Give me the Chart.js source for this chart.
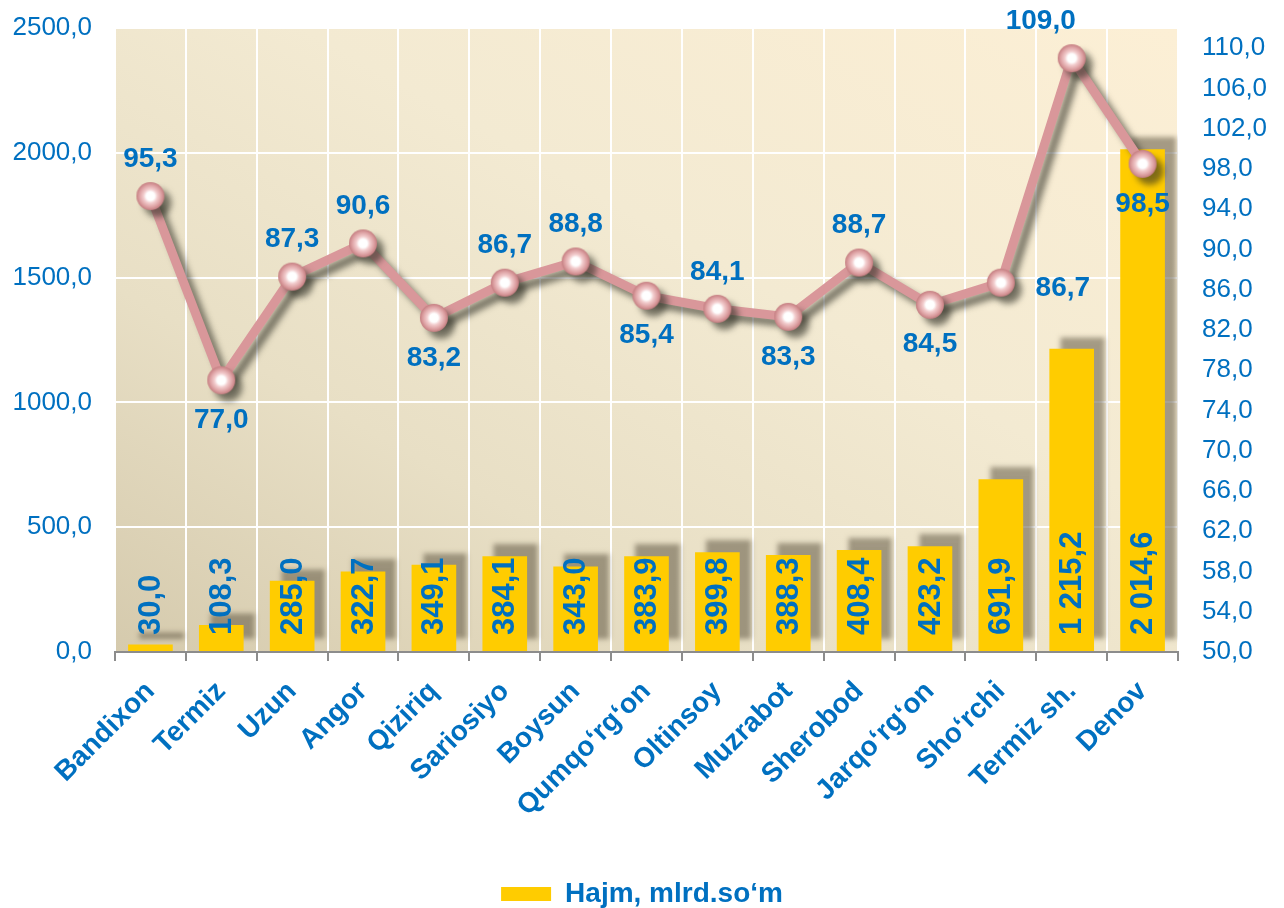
<!DOCTYPE html>
<html>
<head>
<meta charset="utf-8">
<script src="https://cdn.jsdelivr.net/npm/chart.js@4/dist/chart.umd.min.js"></script>
<style>
  html, body { margin: 0; padding: 0; background: #fff; }
  #wrap { width: 1284px; height: 908px; position: relative; }
</style>
</head>
<body>
<div id="wrap"><canvas id="chart"></canvas></div>
<script>
// ── Data ───────────────────────────────────────────────────────────
const districts = ["Bandixon", "Termiz", "Uzun", "Angor", "Qiziriq", "Sariosiyo", "Boysun",
  "Qumqo\u2018rg\u2018on", "Oltinsoy", "Muzrabot", "Sherobod", "Jarqo\u2018rg\u2018on",
  "Sho\u2018rchi", "Termiz sh.", "Denov"];
const volume = [30.0, 108.3, 285.0, 322.7, 349.1, 384.1, 343.0, 383.9, 399.8, 388.3, 408.4, 423.2, 691.9, 1215.2, 2014.6];
const growth = [95.3, 77.0, 87.3, 90.6, 83.2, 86.7, 88.8, 85.4, 84.1, 83.3, 88.7, 84.5, 86.7, 109.0, 98.5];
const volumeTicks = [0, 500, 1000, 1500, 2000, 2500];
const growthTicks = [50, 54, 58, 62, 66, 70, 74, 78, 82, 86, 90, 94, 98, 102, 106, 110];
const volumeLabel = "Hajm, mlrd.so\u2018m";

// where each growth label sits relative to its point
const growthSide = ["t", "b", "t", "t", "b", "t", "t", "b", "t", "b", "t", "b", "r", "tl", "b"];

const BLUE = "#0070C0";
const FONT = "'Liberation Sans', Arial, sans-serif";

function fmt(v, group) {
  let s = v.toFixed(1).replace(".", ",");
  if (group) s = s.replace(/\B(?=(\d{3})+(?!\d))/, " ");
  return s;
}

// pink glass bead used as point style
function makeBead(r) {
  const c = document.createElement("canvas");
  c.width = c.height = r * 2 + 2;
  const g = c.getContext("2d");
  const m = r + 1;
  const grad = g.createRadialGradient(m, m, 0, m, m, r);
  grad.addColorStop(0, "#ffffff");
  grad.addColorStop(0.3, "#ffffff");
  grad.addColorStop(0.5, "#f2cccd");
  grad.addColorStop(0.8, "#dc9fa1");
  grad.addColorStop(1, "#c47e81");
  g.fillStyle = grad;
  g.beginPath();
  g.arc(m, m, r, 0, Math.PI * 2);
  g.fill();
  return c;
}

// y axes: fixed width, no extra label padding above / below the plot
function fixWidth(w) {
  return function (s) {
    s.width = w;
    s.paddingTop = 0;
    s.paddingBottom = 0;
  };
}

// ── Plugins ────────────────────────────────────────────────────────
const backdrop = {
  id: "backdrop",
  beforeDraw(chart) {
    const a = chart.chartArea;
    const ctx = chart.ctx;
    const grad = ctx.createLinearGradient(a.left, a.bottom, a.left + 520, a.top - 300);
    grad.addColorStop(0, "#d5caad");
    grad.addColorStop(0.3, "#e8dfc5");
    grad.addColorStop(0.6, "#f3ead2");
    grad.addColorStop(1, "#fcefd5");
    ctx.save();
    ctx.fillStyle = grad;
    ctx.fillRect(a.left, a.top, a.right - a.left, a.bottom - a.top);
    ctx.restore();
  }
};

const shadows = {
  id: "shadows",
  beforeDatasetDraw(chart, args) {
    const ctx = chart.ctx;
    ctx.save();
    if (args.meta.type === "bar") {
      ctx.shadowColor = "rgba(95,85,65,0.55)";
      ctx.shadowBlur = 5;
      ctx.shadowOffsetX = 11;
      ctx.shadowOffsetY = -12;
    } else {
      ctx.shadowColor = "rgba(45,45,35,0.6)";
      ctx.shadowBlur = 6;
      ctx.shadowOffsetX = 7;
      ctx.shadowOffsetY = 7;
    }
  },
  afterDatasetDraw(chart) {
    chart.ctx.restore();
  }
};

const valueLabels = {
  id: "valueLabels",
  afterDatasetsDraw(chart) {
    const ctx = chart.ctx;
    ctx.save();
    ctx.fillStyle = BLUE;

    // bar values, rotated, from the base upward
    const bars = chart.getDatasetMeta(1);
    ctx.font = "bold 31px " + FONT;
    ctx.textAlign = "left";
    ctx.textBaseline = "middle";
    bars.data.forEach(function (bar, i) {
      ctx.save();
      ctx.translate(bar.x + 1, bar.base - 16);
      ctx.rotate(-Math.PI / 2);
      ctx.fillText(fmt(volume[i], true), 0, 0);
      ctx.restore();
    });

    // growth values around the points
    const pts = chart.getDatasetMeta(0);
    ctx.font = "bold 28px " + FONT;
    ctx.textAlign = "center";
    pts.data.forEach(function (p, i) {
      let dx = 0, dy = -37;
      const side = growthSide[i];
      if (side === "b") dy = 40;
      if (side === "r") { dx = 62; dy = 6; }
      if (side === "tl") { dx = -31; dy = -37; }
      ctx.fillText(fmt(growth[i], false), p.x + dx, p.y + dy);
    });
    ctx.restore();
  }
};

// ── Chart ──────────────────────────────────────────────────────────
Chart.defaults.font.family = FONT;
Chart.defaults.color = BLUE;

new Chart(document.getElementById("chart"), {
  type: "bar",
  data: {
    labels: districts,
    datasets: [{
      type: "line",
      label: "growth",
      data: growth,
      yAxisID: "y1",
      order: 0,
      borderColor: "#d9979a",
      borderWidth: 9,
      borderJoinStyle: "round",
      tension: 0,
      pointStyle: makeBead(14),
      pointRadius: 14,
      fill: false
    }, {
      type: "bar",
      label: volumeLabel,
      data: volume,
      yAxisID: "y",
      order: 1,
      backgroundColor: "#ffcc00",
      borderColor: "#ffcc00",
      borderWidth: 0,
      barPercentage: 0.63,
      categoryPercentage: 1
    }]
  },
  options: {
    responsive: true,
    maintainAspectRatio: false,
    animation: false,
    layout: { padding: { top: 28, bottom: -10, left: 0, right: 0 } },
    plugins: {
      tooltip: { enabled: false },
      legend: {
        position: "bottom",
        labels: {
          filter: function (item) { return item.datasetIndex === 1; },
          color: BLUE,
          font: { size: 28, weight: "bold" },
          boxWidth: 50,
          boxHeight: 14,
          padding: 2
        }
      }
    },
    scales: {
      x: {
        afterFit: function (s) { s.height = 226; },
        grid: { color: "#ffffff", lineWidth: 2, tickColor: "#8c8c8c", tickLength: 9, tickWidth: 2 },
        border: { color: "#8c8c8c", width: 2 },
        ticks: {
          autoSkip: false,
          minRotation: 45,
          maxRotation: 45,
          color: BLUE,
          font: { size: 28, weight: "bold" },
          padding: 14
        }
      },
      y: {
        position: "left",
        min: 0,
        max: 2500,
        afterFit: fixWidth(115),
        afterBuildTicks: function (s) { s.ticks = volumeTicks.map(function (v) { return { value: v }; }); },
        grid: { color: "#ffffff", lineWidth: 2, drawTicks: false },
        border: { display: false },
        ticks: {
          color: BLUE,
          font: { size: 26 },
          padding: 23,
          callback: function (v) { return fmt(v, false); }
        }
      },
      y1: {
        position: "right",
        min: 50,
        max: 112,
        afterFit: fixWidth(106),
        afterBuildTicks: function (s) { s.ticks = growthTicks.map(function (v) { return { value: v }; }); },
        grid: { display: false, drawTicks: false },
        border: { display: false },
        ticks: {
          color: BLUE,
          font: { size: 26 },
          padding: 24,
          callback: function (v) { return fmt(v, false); }
        }
      }
    }
  },
  plugins: [backdrop, shadows, valueLabels]
});
</script>
</body>
</html>
